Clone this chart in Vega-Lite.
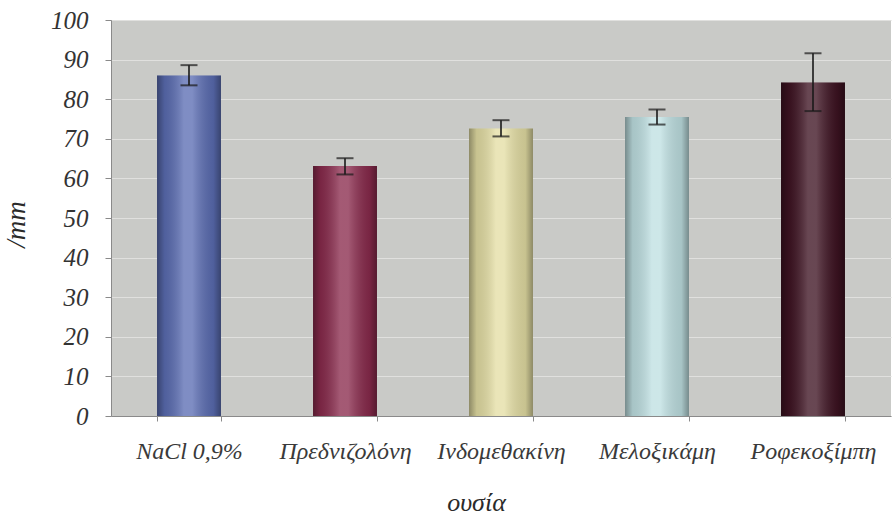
{
  "$schema": "https://vega.github.io/schema/vega-lite/v6.json",
  "width": 780,
  "height": 396,
  "autosize": "none",
  "padding": {"left": 111, "top": 20, "right": 4, "bottom": 99},
  "background": "#ffffff",
  "config": {
    "view": {"fill": "#c9cac7", "stroke": null},
    "font": "'Liberation Serif', 'DejaVu Serif', serif",
    "axis": {
      "labelFont": "'Liberation Serif', 'DejaVu Serif', serif",
      "labelFontStyle": "italic",
      "titleFont": "'Liberation Serif', 'DejaVu Serif', serif",
      "titleFontStyle": "italic",
      "titleFontWeight": "normal",
      "titleColor": "#2a2a2a",
      "tickColor": "#8a8a8a",
      "domainColor": "#8a8a8a",
      "labelOverlap": false
    },
    "axisX": {
      "labelAngle": 0,
      "labelFontSize": 24,
      "labelColor": "#3a3a3a",
      "labelBaseline": "alphabetic",
      "labelPadding": 37,
      "labelLimit": 200,
      "tickBand": "extent",
      "tickSize": 5,
      "titleFontSize": 26,
      "titleX": 365,
      "titleY": 94,
      "titleBaseline": "alphabetic"
    },
    "axisY": {
      "grid": true,
      "gridColor": "#e0e0de",
      "gridWidth": 1.2,
      "labelFontSize": 25,
      "labelColor": "#333333",
      "labelPadding": 17,
      "tickSize": 6,
      "titleFontSize": 27,
      "titleX": -95,
      "titleY": 204,
      "titleAlign": "center",
      "titleBaseline": "middle"
    }
  },
  "data": {
    "values": [
      {"ουσία": "NaCl 0,9%", "value": 86.0, "low": 83.5, "high": 88.6},
      {"ουσία": "Πρεδνιζολόνη", "value": 63.1, "low": 61.0, "high": 65.1},
      {"ουσία": "Ινδομεθακίνη", "value": 72.6, "low": 70.6, "high": 74.7},
      {"ουσία": "Μελοξικάμη", "value": 75.5, "low": 73.6, "high": 77.4},
      {"ουσία": "Ροφεκοξίμπη", "value": 84.2, "low": 77.0, "high": 91.6}
    ]
  },
  "encoding": {
    "x": {
      "field": "ουσία",
      "type": "nominal",
      "sort": null,
      "scale": {"paddingInner": 0.59, "paddingOuter": 0.295},
      "axis": {"title": "ουσία"}
    }
  },
  "layer": [
    {
      "mark": {"type": "bar"},
      "encoding": {
        "y": {
          "field": "value",
          "type": "quantitative",
          "scale": {"domain": [0, 100]},
          "axis": {"title": "/mm", "values": [0, 10, 20, 30, 40, 50, 60, 70, 80, 90, 100]}
        },
        "color": {
          "field": "ουσία",
          "type": "nominal",
          "sort": null,
          "scale": {"range": ["#5b6db3", "#8a2b4d", "#e4dea4", "#bfe0e2", "#3e1322"]},
          "legend": null
        }
      }
    },
    {
      "mark": {
        "type": "bar",
        "color": {
          "gradient": "linear",
          "x1": 0, "x2": 1, "y1": 0, "y2": 0,
          "stops": [
            {"offset": 0, "color": "rgba(0,0,0,0.38)"},
            {"offset": 0.12, "color": "rgba(0,0,0,0.12)"},
            {"offset": 0.42, "color": "rgba(255,255,255,0.22)"},
            {"offset": 0.55, "color": "rgba(255,255,255,0.22)"},
            {"offset": 0.88, "color": "rgba(0,0,0,0.12)"},
            {"offset": 1, "color": "rgba(0,0,0,0.38)"}
          ]
        }
      },
      "encoding": {
        "y": {"field": "value", "type": "quantitative", "axis": {"title": "/mm", "values": [0, 10, 20, 30, 40, 50, 60, 70, 80, 90, 100]}}
      }
    },
    {
      "mark": {"type": "rule", "color": "#1a1a1a", "strokeWidth": 1.6},
      "encoding": {
        "y": {"field": "low", "type": "quantitative", "axis": {"title": "/mm", "values": [0, 10, 20, 30, 40, 50, 60, 70, 80, 90, 100]}},
        "y2": {"field": "high"}
      }
    },
    {
      "mark": {"type": "tick", "color": "#1a1a1a", "size": 17, "thickness": 2},
      "encoding": {
        "y": {"field": "low", "type": "quantitative", "axis": {"title": "/mm", "values": [0, 10, 20, 30, 40, 50, 60, 70, 80, 90, 100]}}
      }
    },
    {
      "mark": {"type": "tick", "color": "#1a1a1a", "size": 17, "thickness": 2},
      "encoding": {
        "y": {"field": "high", "type": "quantitative", "axis": {"title": "/mm", "values": [0, 10, 20, 30, 40, 50, 60, 70, 80, 90, 100]}}
      }
    }
  ]
}
